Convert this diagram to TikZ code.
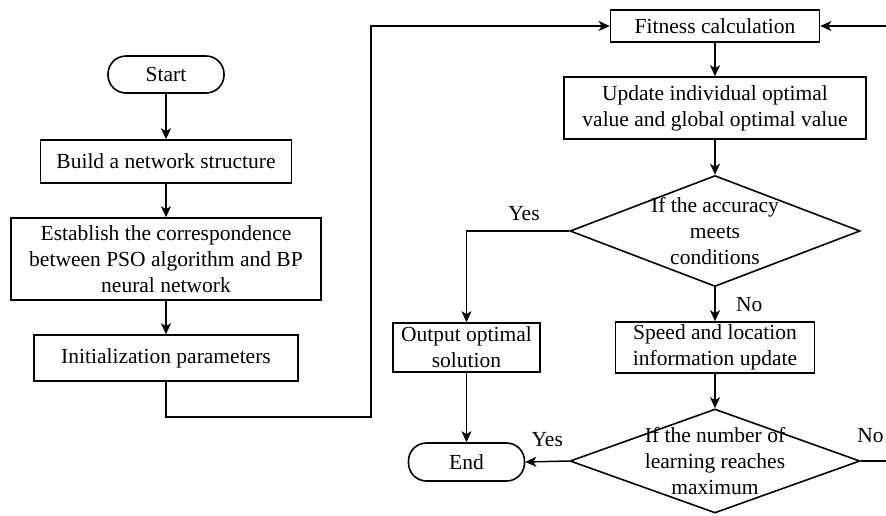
\documentclass[tikz,border=0pt]{standalone}
\usepackage{fontspec}
\setmainfont{Liberation Serif}
\usetikzlibrary{shapes.geometric,arrows.meta}

\begin{document}
\begin{tikzpicture}[x=1pt,y=-1pt,
    every node/.style={font=\fontsize{21.5}{26}\selectfont},
    box/.style={draw,line width=1.6pt,align=center,inner sep=0pt},
    term/.style={box,rounded corners=18pt},
    dec/.style={draw,diamond,line width=1.6pt,inner sep=0pt},
    arr/.style={line width=1.5pt,-{Stealth[length=11pt,width=10pt,inset=3pt]}}]
    \useasboundingbox (0,0) rectangle (886,515);
    \node[term,minimum width=116pt,minimum height=37pt] (start) at (166,74.5) {Start};
    \node[box,minimum width=251pt,minimum height=43pt] (build) at (166,161.5) {Build a network structure};
    \node[box,minimum width=310pt,minimum height=82pt] (corr) at (166,259) {Establish the correspondence\\between PSO algorithm and BP\\neural network};
    \node[box,minimum width=264pt,minimum height=46pt] (init) at (166,358) {Initialization parameters};
    \node[box,minimum width=209pt,minimum height=32pt] (fit) at (715,26) {Fitness calculation};
    \node[box,minimum width=302pt,minimum height=62pt] (upd) at (715,108) {Update individual optimal\\value and global optimal value};
    \node[dec,minimum width=290pt,minimum height=111pt] (acc) at (715,231) {};
    \node[align=center] (acctext) at (acc) {If the accuracy\\meets\\conditions};
    \node[box,minimum width=147pt,minimum height=49pt] (out) at (466.5,347.5) {Output optimal\\solution};
    \node[box,minimum width=199pt,minimum height=51pt] (speed) at (715,347.5) {Speed and location\\information update};
    \node[dec,minimum width=290pt,minimum height=104pt] (num) at (715,461) {};
    \node[align=center] (numtext) at (num) {If the number of\\learning reaches\\maximum};
    \node[term,minimum width=116pt,minimum height=38pt] (end) at (466.5,462) {End};
    \coordinate (bend) at (371,417);
    \coordinate (loop) at (889,26);

    \draw[arr] (start) -- (build);
    \draw[arr] (build) -- (corr);
    \draw[arr] (corr) -- (init);
    \draw[arr] (init.south) |- (bend) |- (fit.west);
    \draw[arr] (fit) -- (upd);
    \draw[arr] (upd) -- (acc);
    \draw[arr] (acc.west) -| node[pos=0.22,above=6pt]{Yes} (out.north);
    \draw[arr] (acc.south) -- node[midway,right=17pt]{No} (speed.north);
    \draw[arr] (speed) -- (num);
    \draw[arr] (out) -- (end);
    \draw[arr] (num.west) -- node[midway,above=11pt]{Yes} (end.east);
    \draw[arr] (num.east) -| node[pos=0.17,above=14pt]{No} (loop) -- (fit.east);
\end{tikzpicture}
\end{document}
